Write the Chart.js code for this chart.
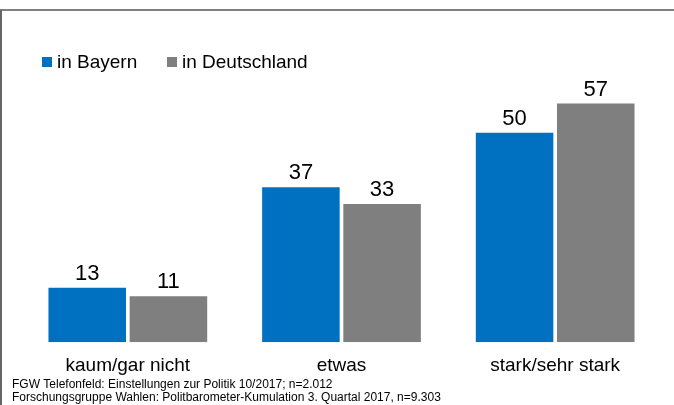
<!DOCTYPE html>
<html>
<head>
<meta charset="utf-8">
<script src="https://cdn.jsdelivr.net/npm/chart.js@4/dist/chart.umd.min.js"></script>
<style>
  html, body { margin: 0; padding: 0; background: #fff; overflow: hidden; }
  canvas { display: block; }
</style>
</head>
<body>
<canvas id="myChart" width="674" height="405"></canvas>
<script>
"use strict";

// data
const categories = ['kaum/gar nicht', 'etwas', 'stark/sehr stark'];
const seriesNames = ['in Bayern', 'in Deutschland'];
const bayern = [13, 37, 50];
const deutschland = [11, 33, 57];
const seriesColors = ['#0070C0', '#7F7F7F'];
const footnotes = [
	'FGW Telefonfeld: Einstellungen zur Politik 10/2017; n=2.012',
	'Forschungsgruppe Wahlen: Politbarometer-Kumulation 3. Quartal 2017, n=9.303'
];

const FONT = '"Liberation Sans", Arial, Helvetica, sans-serif';

// frame lines, legend, footnotes
const framePlugin = {
	id: 'frame',
	beforeDraw: (chart) => {
		const ctx = chart.ctx;
		ctx.save();
		ctx.strokeStyle = '#808080';
		ctx.lineWidth = 2;
		ctx.beginPath();
		ctx.moveTo(0, 10);
		ctx.lineTo(chart.width, 10);
		ctx.stroke();
		ctx.strokeStyle = '#666666';
		ctx.beginPath();
		ctx.moveTo(1, 10);
		ctx.lineTo(1, chart.height);
		ctx.stroke();
		ctx.restore();
	},
	afterDraw: (chart) => {
		const ctx = chart.ctx;
		ctx.save();
		// legend
		const legendX = [42, 167];
		ctx.font = '19px ' + FONT;
		ctx.textBaseline = 'alphabetic';
		ctx.textAlign = 'left';
		chart.data.datasets.forEach((ds, i) => {
			ctx.fillStyle = ds.backgroundColor;
			ctx.fillRect(legendX[i], 57, 10, 10);
			ctx.fillStyle = '#000';
			ctx.fillText(ds.label, legendX[i] + 15, 67.5);
		});
		// footnotes
		ctx.font = '12px ' + FONT;
		ctx.fillStyle = '#000';
		ctx.fillText(footnotes[0], 12, 388);
		ctx.fillText(footnotes[1], 12, 400.5);
		ctx.restore();
	}
};

// numbers above the bars
const valueLabels = {
	id: 'valueLabels',
	afterDatasetsDraw: (chart) => {
		const ctx = chart.ctx;
		ctx.save();
		ctx.font = '22px ' + FONT;
		ctx.fillStyle = '#000';
		ctx.textAlign = 'center';
		ctx.textBaseline = 'alphabetic';
		chart.data.datasets.forEach((ds, i) => {
			chart.getDatasetMeta(i).data.forEach((bar, j) => {
				ctx.fillText(String(ds.data[j]), bar.x, bar.y - 8);
			});
		});
		ctx.restore();
	}
};

const data = {
	labels: categories,
	datasets: [
		{
			label: seriesNames[0],
			data: bayern,
			backgroundColor: seriesColors[0],
			categoryPercentage: 0.76,
			barPercentage: 0.955
		},
		{
			label: seriesNames[1],
			data: deutschland,
			backgroundColor: seriesColors[1],
			categoryPercentage: 0.76,
			barPercentage: 0.955
		}
	]
};

const config = {
	type: 'bar',
	data: data,
	options: {
		responsive: false,
		animation: false,
		devicePixelRatio: 1,
		layout: {
			padding: { left: 21, right: 12, top: 91, bottom: 16 }
		},
		plugins: {
			legend: { display: false },
			tooltip: { enabled: false },
			title: { display: false }
		},
		scales: {
			y: {
				display: false,
				min: 0,
				max: 60
			},
			x: {
				grid: { display: false, drawTicks: false, tickLength: 0 },
				border: { display: false },
				ticks: {
					color: '#000',
					padding: 12,
					font: { family: FONT, size: 19 }
				}
			}
		}
	},
	plugins: [framePlugin, valueLabels]
};

const myChart = new Chart(document.getElementById('myChart'), config);
</script>
</body>
</html>
